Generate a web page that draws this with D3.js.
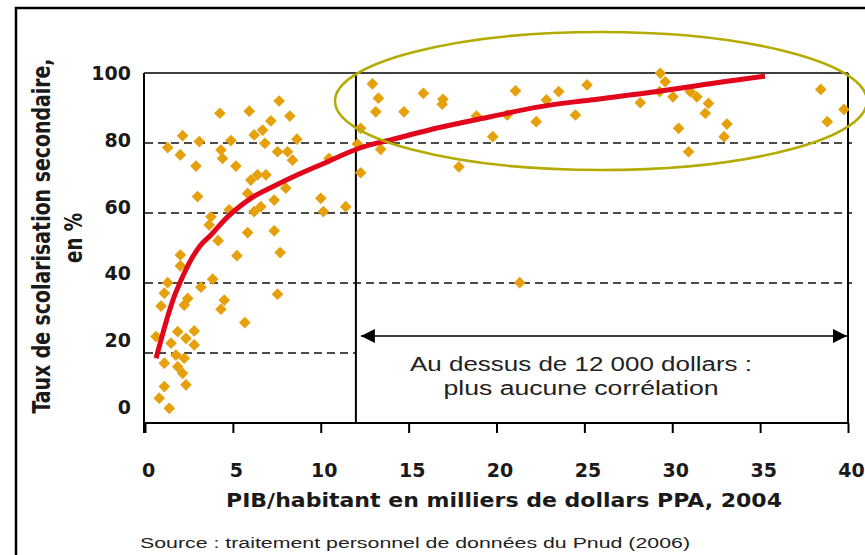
<!DOCTYPE html>
<html>
<head>
<meta charset="utf-8">
<script src="https://cdn.jsdelivr.net/npm/d3@7"></script>
<style>
  body { margin: 0; background: #fff; }
  svg { display: block; }
</style>
</head>
<body>
<div id="chart"></div>
<script>
// PIB/habitant (milliers $ PPA) and taux de scolarisation secondaire (%)
const gdp = [4.26, 5.93, 7.63, 8.24, 7.16, 2.14, 3.09, 1.29, 2.01, 4.89, 6.21, 6.69, 6.82, 8.64, 4.32, 4.41,
  5.17, 2.90, 7.54, 8.11, 8.39, 10.47, 6.40, 6.88, 6.02, 5.84, 8.01, 2.99, 7.35, 6.59, 6.21, 4.79, 10.0,
  10.15, 11.42, 3.75, 3.65, 5.84, 7.35, 4.16, 5.23, 7.69, 2.01, 2.01, 3.85, 3.18, 1.29, 1.10, 2.43, 2.23,
  0.91, 4.51, 4.32, 7.54, 5.68, 0.63, 1.86, 2.80, 2.33, 2.80, 1.48, 1.76, 2.23, 1.10, 1.86, 2.14, 2.33,
  1.10, 0.81, 1.38,
  12.94, 13.28, 13.13, 14.73, 15.84, 16.95, 16.91, 12.27, 12.09, 13.41, 12.27, 17.86, 18.86, 19.79, 20.61,
  21.08, 22.26, 22.84, 23.54, 24.49, 25.15, 28.18, 29.32, 29.6, 29.28, 30.04, 31.02, 31.4, 32.06, 31.88,
  30.36, 33.11, 32.95, 30.93, 38.45, 39.77, 38.82, 21.32]
const school = [88.5, 89.1, 92.0, 87.7, 86.3, 82.1, 80.4, 78.7, 76.6, 80.7, 82.3, 83.7, 79.9, 81.1, 78.0, 75.6,
  73.4, 73.4, 77.5, 77.5, 75.1, 75.6, 70.9, 70.9, 69.4, 65.6, 67.1, 64.7, 63.7, 61.8, 60.4, 60.9, 64.2,
  60.4, 61.8, 58.9, 56.6, 54.4, 54.9, 52.1, 47.8, 48.7, 48.0, 44.9, 41.1, 38.8, 40.1, 37.1, 35.6, 33.7,
  33.4, 35.1, 32.5, 36.8, 28.7, 24.7, 26.1, 26.3, 24.2, 22.3, 22.8, 19.4, 18.5, 17.1, 16.1, 14.2, 10.9,
  10.4, 7.1, 4.2,
  96.9, 92.8, 88.9, 88.9, 94.2, 92.5, 91.1, 84.2, 79.7, 78.2, 71.5, 73.2, 87.7, 81.8, 88.0,
  94.9, 86.1, 92.3, 94.7, 88.0, 96.6, 91.5, 99.9, 97.5, 94.7, 93.2, 94.7, 93.2, 91.3, 88.5,
  84.2, 85.4, 81.8, 77.5, 95.3, 89.6, 86.1, 40.1]

// fitted trend (red curve)
const fitX = [0.63, 0.91, 1.29, 1.66, 2.14, 2.61, 3.18, 3.75, 4.70, 6.02, 7.35, 8.68, 10.19, 12.18, 13.98,
  16.82, 19.66, 22.5, 25.34, 29.13, 32.91, 35.28]
const fitY = [18.5, 23.7, 30.4, 36.1, 41.8, 46.6, 50.9, 53.7, 58.9, 64.2, 67.7, 70.9, 74.2, 78.5, 80.9,
  84.5, 87.5, 90.4, 92.3, 94.7, 97.5, 99.1]

const xTicks = [0, 5, 10, 15, 20, 25, 30, 35, 40]
const yTicks = [0, 20, 40, 60, 80, 100]
const gridY = [20, 40, 60, 80]
const threshold = 12

const width = 865, height = 555
const svg = d3.select("#chart").append("svg")
  .attr("width", width).attr("height", height)
  .style("font-family", "'DejaVu Sans', 'Liberation Sans', Arial, sans-serif")

const x = d3.scaleLinear().domain([0, 40]).range([145, 848])
const y = d3.scaleLinear().domain([0, 100]).range([423, 73])
// tick labels sit a little off the gridlines in the original
const yLab = d3.scaleLinear().domain([0, 100]).range([407, 73])

// outer frame
svg.append("rect")
  .attr("x", 16).attr("y", 8).attr("width", 900).attr("height", 600)
  .attr("fill", "none").attr("stroke", "#000").attr("stroke-width", 2.5)

// dashed gridlines (20 stops at the 12 000 $ line)
svg.append("g").selectAll("line")
  .data(gridY)
  .join("line")
  .attr("x1", x(0)).attr("x2", d => d === 20 ? x(threshold) : x(40) + 4)
  .attr("y1", d => y(d)).attr("y2", d => y(d))
  .attr("stroke", "#111").attr("stroke-width", 1.7)
  .attr("stroke-dasharray", "8,5")

// plot box
const box = svg.append("g").attr("stroke", "#000").attr("fill", "none")
box.append("line").attr("x1", x(0) - 1).attr("x2", x(0) - 1).attr("y1", y(100)).attr("y2", y(0) + 10).attr("stroke-width", 2)
box.append("line").attr("x1", x(0) - 1).attr("x2", x(40)).attr("y1", y(100)).attr("y2", y(100)).attr("stroke-width", 1.5)
box.append("line").attr("x1", x(40)).attr("x2", x(40)).attr("y1", y(100)).attr("y2", y(0)).attr("stroke-width", 2)
box.append("line").attr("x1", x(threshold)).attr("x2", x(threshold)).attr("y1", y(100)).attr("y2", y(0)).attr("stroke-width", 2)

// x axis
const xAxis = svg.append("g")
  .attr("transform", `translate(0,${y(0)})`)
  .call(d3.axisBottom(x).tickValues(xTicks).tickSize(10).tickSizeOuter(0))
xAxis.select(".domain").attr("stroke-width", 2).attr("d", `M${x(0) - 2},0H${x(40) + 1}`)
xAxis.selectAll(".tick line").attr("stroke-width", 2)
xAxis.selectAll(".tick text")
  .attr("y", 54).attr("dy", null).attr("x", 3)
  .attr("font-size", 19).attr("font-weight", "bold").attr("fill", "#1a1a1a")
  .style("font-family", "'DejaVu Sans', sans-serif")

// y labels
svg.append("g").selectAll("text")
  .data(yTicks)
  .join("text")
  .attr("x", 131).attr("y", d => yLab(d) + 7)
  .attr("text-anchor", "end")
  .attr("font-size", 19).attr("font-weight", "bold").attr("fill", "#1a1a1a")
  .text(d => d)

// arrow
const defs = svg.append("defs")
defs.append("marker").attr("id", "ah")
  .attr("viewBox", "0 0 10 10").attr("refX", 10).attr("refY", 5)
  .attr("markerWidth", 15).attr("markerHeight", 14).attr("markerUnits", "userSpaceOnUse")
  .attr("orient", "auto-start-reverse")
  .append("path").attr("d", "M0,0L10,5L0,10Z").attr("fill", "#000")
svg.append("line")
  .attr("x1", x(threshold) + 5).attr("x2", x(40) - 1)
  .attr("y1", 336).attr("y2", 336)
  .attr("stroke", "#000").attr("stroke-width", 1.5)
  .attr("marker-start", "url(#ah)").attr("marker-end", "url(#ah)")

svg.append("text").attr("x", 581).attr("y", 371)
  .attr("text-anchor", "middle").attr("font-size", 20).attr("fill", "#222")
  .style("font-family", "'Liberation Sans', Arial, sans-serif")
  .attr("textLength", 342).attr("lengthAdjust", "spacingAndGlyphs")
  .text("Au dessus de 12 000 dollars :")
svg.append("text").attr("x", 581).attr("y", 395)
  .attr("text-anchor", "middle").attr("font-size", 20).attr("fill", "#222")
  .style("font-family", "'Liberation Sans', Arial, sans-serif")
  .attr("textLength", 275).attr("lengthAdjust", "spacingAndGlyphs")
  .text("plus aucune corrélation")

// points
svg.append("g").selectAll("path")
  .data(gdp.map((g, i) => [g, school[i]]))
  .join("path")
  .attr("d", d3.symbol(d3.symbolSquare, 68))
  .attr("transform", d => `translate(${x(d[0])},${y(d[1])}) rotate(45)`)
  .attr("fill", "#e5a00b")

// trend curve
const line = d3.line()
  .x(d => x(d[0])).y(d => y(d[1]))
  .curve(d3.curveCatmullRom)
svg.append("path")
  .datum(fitX.map((v, i) => [v, fitY[i]]))
  .attr("d", line)
  .attr("fill", "none").attr("stroke", "#e2061c").attr("stroke-width", 5)

// highlight ellipse
svg.append("ellipse")
  .attr("cx", 601).attr("cy", 101).attr("rx", 266).attr("ry", 69)
  .attr("fill", "none").attr("stroke", "#b3ab00").attr("stroke-width", 2.5)

// axis titles
svg.append("text")
  .attr("x", 504).attr("y", 507)
  .attr("text-anchor", "middle").attr("font-size", 19).attr("font-weight", "bold").attr("fill", "#1a1a1a")
  .attr("textLength", 556).attr("lengthAdjust", "spacingAndGlyphs")
  .text("PIB/habitant en milliers de dollars PPA, 2004")

const yTitle = svg.append("g").attr("transform", "translate(0,236) rotate(-90)")
  .attr("text-anchor", "middle").attr("font-weight", "bold").attr("fill", "#1a1a1a")
  .style("font-family", "'Liberation Sans Narrow', 'DejaVu Sans Condensed', Arial, sans-serif")
yTitle.append("text").attr("x", 0).attr("y", 50).attr("font-size", 24)
  .attr("textLength", 355).attr("lengthAdjust", "spacingAndGlyphs")
  .text("Taux de scolarisation secondaire,")
yTitle.append("text").attr("x", -2).attr("y", 82).attr("font-size", 24)
  .attr("textLength", 50).attr("lengthAdjust", "spacingAndGlyphs")
  .text("en %")

svg.append("text")
  .attr("x", 140).attr("y", 548)
  .attr("font-size", 14).attr("fill", "#222")
  .style("font-family", "'Liberation Sans', Arial, sans-serif")
  .attr("textLength", 550).attr("lengthAdjust", "spacingAndGlyphs")
  .text("Source : traitement personnel de données du Pnud (2006)")
</script>
</body>
</html>
